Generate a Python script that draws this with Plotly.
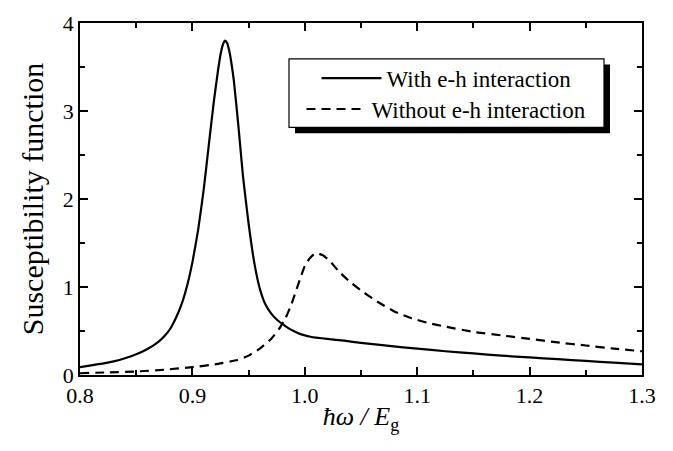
import plotly.graph_objects as go

# Data
x_with = [0.80, 0.81, 0.82, 0.83, 0.84, 0.85, 0.86, 0.87, 0.875, 0.88, 0.885, 0.89, 0.895,
          0.90, 0.905, 0.91, 0.915, 0.919, 0.923, 0.925, 0.927, 0.929, 0.931, 0.933, 0.935,
          0.937, 0.941, 0.945, 0.95, 0.955, 0.96, 0.965, 0.97, 0.975, 0.98, 0.985, 0.99,
          0.995, 1.00, 1.005, 1.01, 1.02, 1.035, 1.05, 1.075, 1.10, 1.125, 1.15, 1.175,
          1.20, 1.225, 1.25, 1.275, 1.30]
y_with = [0.09, 0.11, 0.13, 0.155, 0.19, 0.235, 0.295, 0.38, 0.44, 0.52, 0.64, 0.79, 1.00,
          1.28, 1.64, 2.10, 2.66, 3.10, 3.48, 3.64, 3.75, 3.80, 3.77, 3.67, 3.52,
          3.33, 2.82, 2.26, 1.72, 1.28, 0.98, 0.80, 0.70, 0.63, 0.58, 0.535, 0.50,
          0.47, 0.45, 0.435, 0.425, 0.41, 0.39, 0.365, 0.33, 0.30, 0.27, 0.245, 0.22,
          0.20, 0.18, 0.16, 0.14, 0.12]

x_without = [0.80, 0.825, 0.85, 0.875, 0.90, 0.92, 0.94, 0.95, 0.96, 0.97, 0.977, 0.983,
             0.988, 0.992, 0.996, 1.000, 1.004, 1.008, 1.012, 1.016, 1.022, 1.03, 1.04,
             1.05, 1.065, 1.08, 1.095, 1.11, 1.125, 1.15, 1.175, 1.20, 1.225, 1.25, 1.275, 1.30]
y_without = [0.02, 0.03, 0.04, 0.06, 0.09, 0.12, 0.17, 0.22, 0.30, 0.41, 0.52, 0.65,
             0.80, 0.95, 1.10, 1.24, 1.32, 1.37, 1.38, 1.36, 1.30, 1.18, 1.06,
             0.96, 0.83, 0.72, 0.645, 0.59, 0.55, 0.49, 0.45, 0.41, 0.37, 0.335, 0.30, 0.27]

name_with = "With e-h interaction"
name_without = "Without e-h interaction"

FONT = "Liberation Serif"
W, H = 673, 451
ML, MR, MT, MB = 80, 31, 11, 76
PW, PH = W - ML - MR, H - MT - MB

def px(xp):
    return (xp - ML) / PW

def py(yp):
    return (H - MB - yp) / PH

fig = go.Figure()
fig.add_trace(go.Scatter(x=x_with, y=y_with, mode="lines", name=name_with,
                         line=dict(color="black", width=2.2, shape="spline", smoothing=0.4),
                         legend="legend"))
fig.add_trace(go.Scatter(x=x_without, y=y_without, mode="lines", name=name_without,
                         line=dict(color="black", width=2.2, dash="9px,6px", shape="spline", smoothing=0.4),
                         legend="legend2"))

axis_common = dict(showline=True, linecolor="black", linewidth=1.5, mirror="allticks",
                   ticks="inside", ticklen=8, tickwidth=1.5, tickcolor="black",
                   showgrid=False, zeroline=False, ticklabeloverflow="allow",
                   tickfont=dict(family=FONT, size=22, color="black"))

fig.update_xaxes(range=[0.8, 1.3], tickvals=[0.8, 0.9, 1.0, 1.1, 1.2, 1.3], tickformat=".1f",
                 minor=dict(dtick=0.05, ticks="inside", ticklen=5, tickwidth=1.5, tickcolor="black"),
                 title=dict(text="<i>ħω / E</i><sub>g</sub>", font=dict(family=FONT, size=26, color="black"),
                            standoff=0),
                 ticklabelstandoff=0,
                 **axis_common)
fig.update_yaxes(range=[0, 4], tickvals=[0, 1, 2, 3, 4],
                 minor=dict(dtick=0.5, ticks="inside", ticklen=5, tickwidth=1.5, tickcolor="black"),
                 title=dict(text="Susceptibility function", font=dict(family=FONT, size=30, color="black"),
                            standoff=10),
                 **axis_common)

# legend box with drop shadow
bx0, bx1, by0, by1 = 289, 604, 48, 119
fig.add_shape(type="rect", xref="paper", yref="paper", layer="above",
              x0=px(bx0 + 6), x1=px(bx1 + 6), y0=py(by1 + 6), y1=py(by0 + 6),
              line=dict(width=0), fillcolor="black")
fig.add_shape(type="rect", xref="paper", yref="paper", layer="above",
              x0=px(bx0), x1=px(bx1), y0=py(by1), y1=py(by0),
              line=dict(color="black", width=1.2), fillcolor="white")

leg_common = dict(xanchor="center", yanchor="middle", bgcolor="rgba(0,0,0,0)",
                  borderwidth=0, itemwidth=60,
                  font=dict(family=FONT, size=23, color="black"))
fig.update_layout(
    width=W, height=H,
    margin=dict(l=ML, r=MR, t=MT, b=MB),
    paper_bgcolor="white", plot_bgcolor="white",
    showlegend=True,
    legend=dict(x=px(446.5), y=py(68), **leg_common),
    legend2=dict(x=px(446.5), y=py(100), **leg_common),
)

fig.write_html("out.html")
